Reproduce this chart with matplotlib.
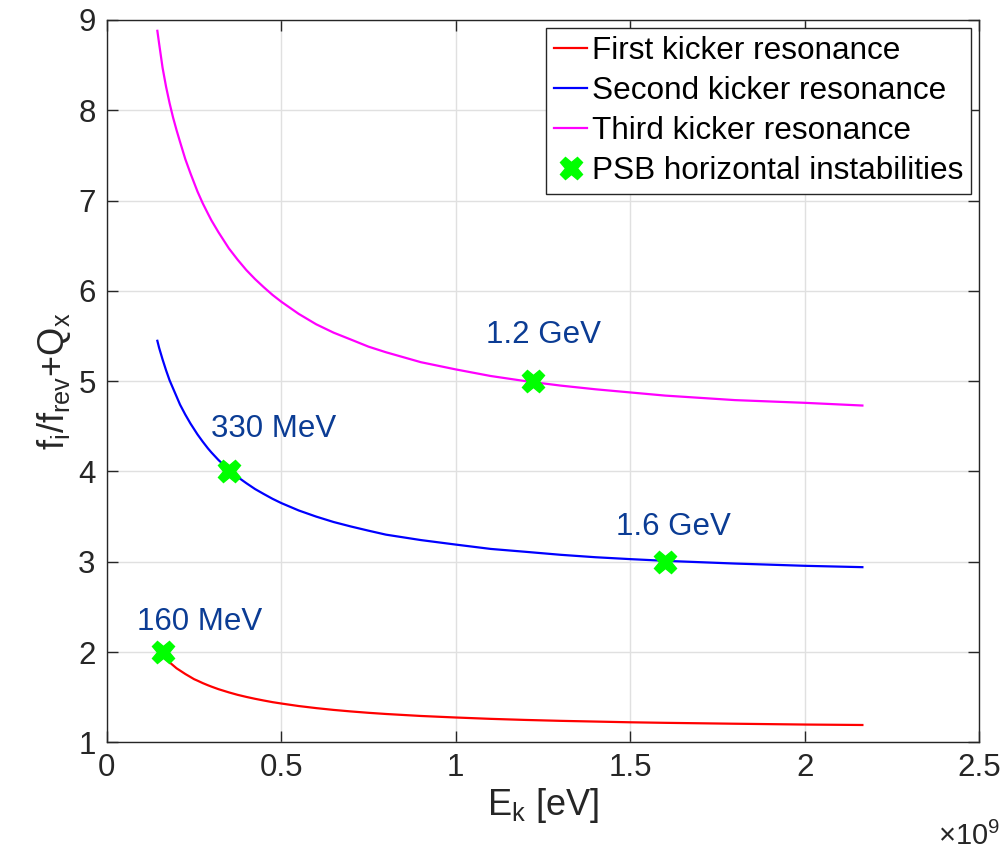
import numpy as np
import matplotlib
matplotlib.use("Agg")
import matplotlib.pyplot as plt
from matplotlib.ticker import FuncFormatter, MultipleLocator

plt.rcParams['font.family'] = ['Liberation Sans', 'DejaVu Sans']

# ---- data (kinetic energy in GeV, converted to eV for plotting) ----
E_gev = [0.145, 0.15, 0.16, 0.17, 0.18, 0.19, 0.20, 0.21, 0.225, 0.24, 0.25, 0.26,
         0.275, 0.29, 0.30, 0.32, 0.35, 0.375, 0.40, 0.425, 0.45, 0.475, 0.50,
         0.55, 0.60, 0.65, 0.70, 0.75, 0.80, 0.90, 1.00, 1.10, 1.20, 1.30, 1.40,
         1.50, 1.60, 1.80, 2.00, 2.165]
first_res = [2.03, 2.005, 1.96, 1.922, 1.886, 1.853, 1.82, 1.795, 1.757, 1.723, 1.70, 1.683,
             1.656, 1.632, 1.617, 1.589, 1.553, 1.526, 1.503, 1.482, 1.463, 1.445, 1.43,
             1.402, 1.379, 1.359, 1.342, 1.327, 1.314, 1.292, 1.275, 1.26, 1.248, 1.238, 1.23,
             1.222, 1.216, 1.206, 1.197, 1.192]
second_res = [5.447, 5.37, 5.24, 5.12, 5.01, 4.92, 4.83, 4.74, 4.63, 4.53, 4.47, 4.41,
              4.33, 4.255, 4.21, 4.127, 4.02, 3.939, 3.87, 3.805, 3.75, 3.697, 3.65,
              3.568, 3.50, 3.44, 3.39, 3.344, 3.30, 3.24, 3.19, 3.142, 3.11, 3.077, 3.05,
              3.029, 3.01, 2.98, 2.955, 2.94]
third_res = [8.88, 8.74, 8.47, 8.26, 8.08, 7.92, 7.78, 7.65, 7.46, 7.30, 7.20, 7.10,
             6.97, 6.855, 6.78, 6.65, 6.47, 6.345, 6.23, 6.13, 6.04, 5.955, 5.88,
             5.745, 5.63, 5.537, 5.46, 5.382, 5.32, 5.21, 5.13, 5.057, 5.00, 4.951, 4.91,
             4.875, 4.84, 4.79, 4.76, 4.73]

inst_E_gev = [0.16, 0.35, 1.22, 1.60]
inst_val = [2, 4, 5, 3]
inst_labels = ['160 MeV', '330 MeV', '1.2 GeV', '1.6 GeV']
label_pos_gev = [0.265, 0.478, 1.251, 1.625]
label_pos_y = [2.244, 4.384, 5.419, 3.296]

series_names = ['First kicker resonance', 'Second kicker resonance',
                'Third kicker resonance', 'PSB horizontal instabilities']

E = np.array(E_gev) * 1e9
inst_E = np.array(inst_E_gev) * 1e9
lab_E = np.array(label_pos_gev) * 1e9

fig = plt.figure(figsize=(10.07, 8.57), dpi=100)
ax = fig.add_axes([0.106, 0.1338, 0.8665, 0.8429])

ax.plot(E, first_res, color='#ff0000', lw=1.6, label=series_names[0])
ax.plot(E, second_res, color='#0000ff', lw=1.6, label=series_names[1])
ax.plot(E, third_res, color='#ff00ff', lw=1.6, label=series_names[2])
ax.plot(inst_E, inst_val, linestyle='none', marker='X', ms=16,
        color='#00ff00', mec='#00ff00', label=series_names[3], zorder=5)

for lx, ly, t in zip(lab_E, label_pos_y, inst_labels):
    ax.text(lx, ly, t, ha='center', va='baseline', fontsize=22.5, color='#0b3c94')

ax.set_xlim(0, 2.5e9)
ax.set_ylim(1, 9)
ax.xaxis.set_major_locator(MultipleLocator(0.5e9))
ax.yaxis.set_major_locator(MultipleLocator(1))
ax.xaxis.set_major_formatter(FuncFormatter(lambda v, _: f'{v/1e9:g}'))

ax.grid(True, color='#e0e0e0', lw=1.0)
ax.set_axisbelow(True)
for s in ax.spines.values():
    s.set_color('#262626')
    s.set_linewidth(1.0)
ax.tick_params(axis='both', direction='in', length=8, width=1.0, color='#262626',
               top=True, right=True, labelsize=22.5, labelcolor='#262626', pad=8)

ax.set_xlabel(r'$\mathregular{E_k}$ [eV]', fontsize=26, color='#262626', labelpad=2)
ax.set_ylabel(r'$\mathregular{f_i/f_{rev}{+}Q_x}$', fontsize=26, color='#262626', labelpad=4)

fig.text(0.993, (857 - 845) / 857, r'$\mathregular{\times10^9}$', ha='right',
         va='baseline', fontsize=21, color='#262626')

leg = ax.legend(loc='upper right', fontsize=22.7, frameon=True, fancybox=False,
                framealpha=1, edgecolor='#262626', handlelength=1.05,
                handletextpad=0.16, labelspacing=0.32, borderpad=0.25,
                borderaxespad=0.25, markerscale=1.0)
leg.get_frame().set_linewidth(1.0)

fig.savefig('out.png', dpi=100, facecolor='white')
